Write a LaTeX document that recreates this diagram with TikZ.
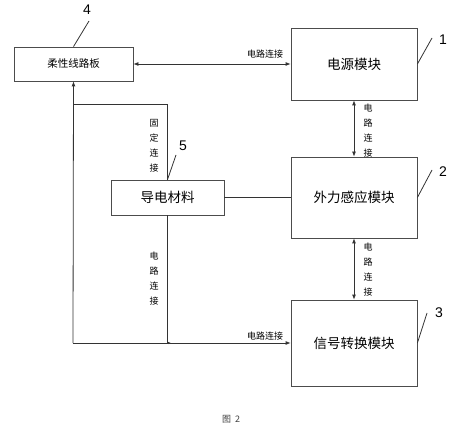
\documentclass[tikz,border=0pt]{standalone}
\usepackage{fontspec}
\setmainfont{Liberation Sans}
\newfontfamily\cjk{Noto Sans CJK SC}
\usetikzlibrary{arrows.meta}

\tikzset{
	blk/.style={draw=black!70, line width=0.8pt, fill=white, inner sep=0pt},
	con/.style={draw=black!80, line width=0.8pt},
	tip/.style={{Latex[length=5pt,width=4pt]}-{Latex[length=5pt,width=4pt]}},
	lbl/.style={font=\cjk\fontsize{9}{15}\selectfont, align=center, inner sep=0pt},
	num/.style={font=\fontsize{14}{14}\selectfont, inner sep=0pt}
}

\begin{document}
\begin{tikzpicture}[x=1pt,y=-1pt]
		
		\useasboundingbox (0,0) rectangle (465,435);
		
		\node[blk, minimum width=119pt, minimum height=34pt, font=\cjk\fontsize{10.5}{12}\selectfont] (flex) at ( 73.5, 64) {柔性线路板};
		\node[blk, minimum width=126pt, minimum height=72pt, font=\cjk\fontsize{13.5}{16}\selectfont] (power) at (354, 64) {电源模块};
		\node[blk, minimum width=126pt, minimum height=81pt, font=\cjk\fontsize{13.5}{16}\selectfont] (sense) at (354, 197.5) {外力感应模块};
		\node[blk, minimum width=126pt, minimum height=86pt, font=\cjk\fontsize{13.5}{16}\selectfont] (signal) at (354, 343) {信号转换模块};
		\node[blk, minimum width=113pt, minimum height=35pt, font=\cjk\fontsize{13.5}{16}\selectfont] (cond) at (167.5, 197.5) {导电材料};
		
		\coordinate (j1) at ( 73, 104);
		\coordinate (j2) at ( 73, 343);
		\coordinate (j3) at (171, 343);
		
		\draw[con, tip] (flex) to (power);
		\draw[con, tip] (power) to (sense);
		\draw[con, tip] (sense) to (signal);
		\draw[con] (cond) to (sense);
		
		\draw[con] (cond.north) |- (j1);
		\draw[con, -{Latex[length=5pt,width=4pt]}] (j2) to (flex.south);
		\draw[con, -{Latex[length=5pt,width=4pt]}] (j2) to (signal.west);
		\draw[con] (cond.south) to (cond.south |- j2);
		\draw[con, -{Latex[length=3pt,width=2.5pt]}] (j2) to (j3);
		
		\node[lbl] (l1) at (265, 54) {电路连接};
		\node[lbl] (l2) at (368, 131) {电\\路\\连\\接};
		\node[lbl] (l3) at (368, 270) {电\\路\\连\\接};
		\node[lbl] (l4) at (154, 146) {固\\定\\连\\接};
		\node[lbl] (l5) at (154, 279) {电\\路\\连\\接};
		\node[lbl] (l6) at (265, 336) {电路连接};
		
		\node[num] (n1) at (443, 40) {1};
		\node[num] (n2) at (443, 172) {2};
		\node[num] (n3) at (439, 313) {3};
		\node[num] (n4) at ( 87, 10) {4};
		\node[num] (n5) at (183, 146) {5};
		
		\draw[con] (power.east) to (432, 38);
		\draw[con] (sense.east) to (432, 170);
		\draw[con] (signal.east) to (427, 313);
		\draw[con] (flex.north) to ( 89, 21);
		\draw[con] (cond.north) to (176, 155);
		
		\node[font=\cjk\fontsize{9}{10}\selectfont, text=black!75] (cap) at (231, 419) {图\hspace{4pt}2};
		
	\end{tikzpicture}
\end{document}
